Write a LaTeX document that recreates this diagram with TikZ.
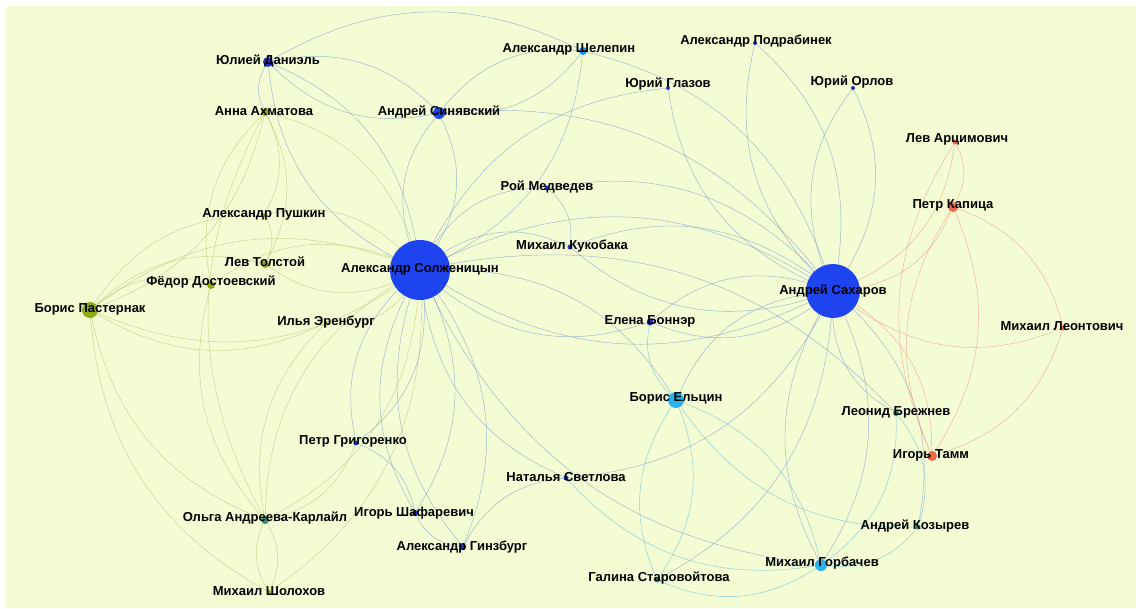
\documentclass[tikz,border=0pt]{standalone}
\usepackage{fontspec}
\setmainfont{Liberation Sans}
\pgfdeclarelayer{bglayer}
\pgfdeclarelayer{edgelayer}
\pgfsetlayers{bglayer,edgelayer,main}
\definecolor{bgc}{RGB}{244,252,212}
\definecolor{bigblue}{RGB}{30,68,240}
\definecolor{dblue}{RGB}{32,52,200}
\definecolor{cyanc}{RGB}{40,180,235}
\definecolor{greenc}{RGB}{140,172,22}
\definecolor{tealc}{RGB}{50,140,110}
\definecolor{redc}{RGB}{236,104,74}
\definecolor{ebc}{RGB}{120,148,205}
\definecolor{egc}{RGB}{185,198,120}
\definecolor{erc}{RGB}{235,155,130}
\definecolor{ecc}{RGB}{90,185,215}
\begin{document}
\begin{tikzpicture}[x=1pt,y=-1pt,
  dot/.style={circle,inner sep=0pt,minimum size=#1},
  lab/.style={inner sep=0pt,font=\fontsize{13}{15}\selectfont\bfseries,text=black},
  eb/.style={draw=ebc,line width=0.45pt,opacity=0.7},
  eg/.style={draw=egc,line width=0.45pt,opacity=0.75},
  er/.style={draw=erc,line width=0.45pt,opacity=0.75},
  ec/.style={draw=ecc,line width=0.45pt,opacity=0.7},
  bl/.style={bend left=28},
  br/.style={bend right=28}]
\useasboundingbox (0,0) rectangle (1138,608);
\begin{pgfonlayer}{bglayer}
\fill[bgc] (6,6) rectangle (1136,608);
\end{pgfonlayer}
% nodes (dots)
\node[dot=60pt,fill=bigblue] (sol) at (420,270) {};
\node[dot=54pt,fill=bigblue] (sak) at (833,291) {};
\node[dot=10pt,fill=dblue] (dan) at (268,62) {};
\node[dot=8pt,fill=greenc] (akh) at (265,112) {};
\node[dot=8pt,fill=cyanc!80!blue] (she) at (583,51) {};
\node[dot=12pt,fill=bigblue] (sin) at (439,113) {};
\node[dot=4pt,fill=dblue] (pod) at (755,43) {};
\node[dot=4pt,fill=dblue] (gla) at (668,88) {};
\node[dot=4pt,fill=dblue] (orl) at (853,88) {};
\node[dot=5pt,fill=redc] (art) at (955,142) {};
\node[dot=10pt,fill=redc] (kap) at (953,207) {};
\node[dot=5pt,fill=redc] (leo) at (1063,328) {};
\node[dot=5pt,fill=dblue] (med) at (547,188) {};
\node[dot=5pt,fill=dblue] (kuk) at (570,247) {};
\node[dot=7pt,fill=dblue] (bon) at (650,322) {};
\node[dot=16pt,fill=cyanc] (elc) at (676,400) {};
\node[dot=6pt,fill=tealc] (bre) at (896,413) {};
\node[dot=10pt,fill=redc] (tam) at (932,456) {};
\node[dot=5pt,fill=tealc] (koz) at (918,527) {};
\node[dot=12pt,fill=cyanc] (gor) at (821,565) {};
\node[dot=5pt,fill=tealc] (sta) at (657,580) {};
\node[dot=5pt,fill=dblue] (sve) at (566,478) {};
\node[dot=6pt,fill=dblue] (gin) at (463,547) {};
\node[dot=6pt,fill=dblue] (sha) at (415,513) {};
\node[dot=5pt,fill=dblue] (gri) at (356,443) {};
\node[dot=8pt,fill=tealc] (olg) at (265,520) {};
\node[dot=4pt,fill=greenc] (sho) at (269,592) {};
\node[dot=16pt,fill=greenc] (pas) at (90,310) {};
\node[dot=4pt,fill=greenc] (ere) at (326,323) {};
\node[dot=8pt,fill=greenc] (dos) at (211,285) {};
\node[dot=8pt,fill=greenc] (tol) at (265,264) {};
\node[dot=4pt,fill=greenc] (pus) at (264,215) {};
% edges
\begin{pgfonlayer}{edgelayer}
% Solzhenitsyn blue
\draw[eb] (sol) to[bl] (dan);
\draw[eb] (dan) to[bl] (sol);
\draw[eb] (sol) to[bl] (sin);
\draw[eb] (sin) to[bl] (sol);
\draw[eb] (sol) to[br] (she);
\draw[eb] (sol) to[bl] (med);
\draw[eb] (sol) to[bl] (kuk);
\draw[eb] (sol) to[bl] (sak);
\draw[eb] (sak) to[bl] (sol);
\draw[eb] (sol) to[br] (bon);
\draw[eb] (sol) to[bl] (elc);
\draw[eb] (sol) to[br] (gor);
\draw[eb] (sol) to[bl] (bre);
\draw[eb] (sol) to[br] (sve);
\draw[eb] (sol) to[bl] (gin);
\draw[eb] (gin) to[bl] (sol);
\draw[eb] (sol) to[bl] (sha);
\draw[eb] (sha) to[bl] (sol);
\draw[eb] (sol) to[br] (gri);
\draw[eb] (gri) to[br] (sol);
\draw[eb] (sol) to[bl] (gla);
% Solzhenitsyn green
\draw[eg] (sol) to[br] (akh);
\draw[eg] (sol) to[bl] (pas);
\draw[eg] (pas) to[bl] (sol);
\draw[eg] (sol) to[bl] (tol);
\draw[eg] (sol) to[br] (dos);
\draw[eg] (sol) to[br] (pus);
\draw[eg] (sol) to[bl] (ere);
\draw[eg] (sol) to[bl] (olg);
\draw[eg] (olg) to[bl] (sol);
\draw[eg] (sol) to[bl] (sho);
% Sakharov
\draw[eb] (sak) to[bl] (pod);
\draw[eb] (pod) to[bl] (sak);
\draw[eb] (sak) to[bl] (gla);
\draw[eb] (sak) to[br] (orl);
\draw[eb] (orl) to[br] (sak);
\draw[er] (sak) to[br] (art);
\draw[er] (sak) to[br] (kap);
\draw[er] (sak) to[br] (leo);
\draw[er] (sak) to[bl] (tam);
\draw[eb] (sak) to[bl] (bon);
\draw[eb] (bon) to[bl] (sak);
\draw[eb] (sak) to[br] (elc);
\draw[eb] (sak) to[bl] (gor);
\draw[eb] (gor) to[bl] (sak);
\draw[eb] (sak) to[br] (bre);
\draw[eb] (sak) to[bl] (koz);
\draw[eb] (sak) to[bl] (sta);
\draw[eb] (sak) to[br] (kuk);
\draw[eb] (kuk) to[br] (sak);
\draw[eb] (sak) to[br] (med);
\draw[eb] (sak) to[br] (sin);
\draw[eb] (sak) to[br] (she);
\draw[eb] (sak) to[bl] (sve);
% dissidents
\draw[eb] (dan) to[bl] (sin);
\draw[eb] (sin) to[bl] (dan);
\draw[eb] (dan) to[bl] (she);
\draw[eb] (sin) to[bl] (she);
\draw[eb] (she) to[bl] (sin);
\draw[eb] (dan) to[br] (akh);
\draw[eb] (gin) to[bl] (sve);
\draw[eb] (sha) to[br] (gin);
\draw[eb] (gri) to[bl] (sha);
\draw[eb] (med) to[bl] (kuk);
% writers
\draw[eg] (akh) to[bl] (pas);
\draw[eg] (akh) to[bl] (pus);
\draw[eg] (akh) to[br] (dos);
\draw[eg] (akh) to[bl] (tol);
\draw[eg] (akh) to[br] (olg);
\draw[eg] (pas) to[bl] (pus);
\draw[eg] (pas) to[bl] (tol);
\draw[eg] (pas) to[bl] (dos);
\draw[eg] (pas) to[br] (ere);
\draw[eg] (pas) to[br] (olg);
\draw[eg] (pas) to[br] (sho);
\draw[eg] (olg) to[bl] (sho);
\draw[eg] (sho) to[bl] (olg);
\draw[eg] (olg) to[br] (gri);
\draw[eg] (olg) to[bl] (ere);
\draw[eg] (dos) to[br] (olg);
\draw[eg] (pus) to[bl] (tol);
% politicians
\draw[ec] (elc) to[bl] (gor);
\draw[ec] (elc) to[br] (sta);
\draw[ec] (sta) to[br] (elc);
\draw[ec] (elc) to[br] (koz);
\draw[ec] (elc) to[bl] (bon);
\draw[ec] (gor) to[br] (koz);
\draw[ec] (gor) to[br] (bre);
\draw[ec] (gor) to[bl] (sve);
\draw[ec] (gor) to[bl] (sta);
\draw[ec] (bre) to[bl] (koz);
% physicists
\draw[er] (kap) to[bl] (tam);
\draw[er] (tam) to[bl] (kap);
\draw[er] (kap) to[bl] (leo);
\draw[er] (tam) to[br] (leo);
\draw[er] (tam) to[bl] (art);
\draw[er] (kap) to[br] (art);
\end{pgfonlayer}
% labels
\node[lab] (l-sol) at (420,269) {Александр Солженицын};
\node[lab] (l-sak) at (833,291) {Андрей Сахаров};
\node[lab] (l-dan) at (268,61) {Юлией Даниэль};
\node[lab] (l-akh) at (264,111) {Анна Ахматова};
\node[lab] (l-she) at (569,49) {Александр Шелепин};
\node[lab] (l-sin) at (439,112) {Андрей Синявский};
\node[lab] (l-pod) at (756,41) {Александр Подрабинек};
\node[lab] (l-gla) at (668,84) {Юрий Глазов};
\node[lab] (l-orl) at (852,82) {Юрий Орлов};
\node[lab] (l-art) at (957,139) {Лев Арцимович};
\node[lab] (l-kap) at (953,205) {Петр Капица};
\node[lab] (l-leo) at (1062,326) {Михаил Леонтович};
\node[lab] (l-med) at (547,187) {Рой Медведев};
\node[lab] (l-kuk) at (572,246) {Михаил Кукобака};
\node[lab] (l-bon) at (650,321) {Елена Боннэр};
\node[lab] (l-elc) at (676,398) {Борис Ельцин};
\node[lab] (l-bre) at (896,412) {Леонид Брежнев};
\node[lab] (l-tam) at (931,455) {Игорь Тамм};
\node[lab] (l-koz) at (915,526) {Андрей Козырев};
\node[lab] (l-gor) at (822,563) {Михаил Горбачев};
\node[lab] (l-sta) at (659,578) {Галина Старовойтова};
\node[lab] (l-sve) at (566,477) {Наталья Светлова};
\node[lab] (l-gin) at (462,547) {Александр Гинзбург};
\node[lab] (l-sha) at (414,513) {Игорь Шафаревич};
\node[lab] (l-gri) at (353,441) {Петр Григоренко};
\node[lab] (l-olg) at (265,518) {Ольга Андреева-Карлайл};
\node[lab] (l-sho) at (269,591) {Михаил Шолохов};
\node[lab] (l-pas) at (90,309) {Борис Пастернак};
\node[lab] (l-ere) at (326,322) {Илья Эренбург};
\node[lab] (l-dos) at (211,282) {Фёдор Достоевский};
\node[lab] (l-tol) at (265,262) {Лев Толстой};
\node[lab] (l-pus) at (264,214) {Александр Пушкин};
\end{tikzpicture}
\end{document}
